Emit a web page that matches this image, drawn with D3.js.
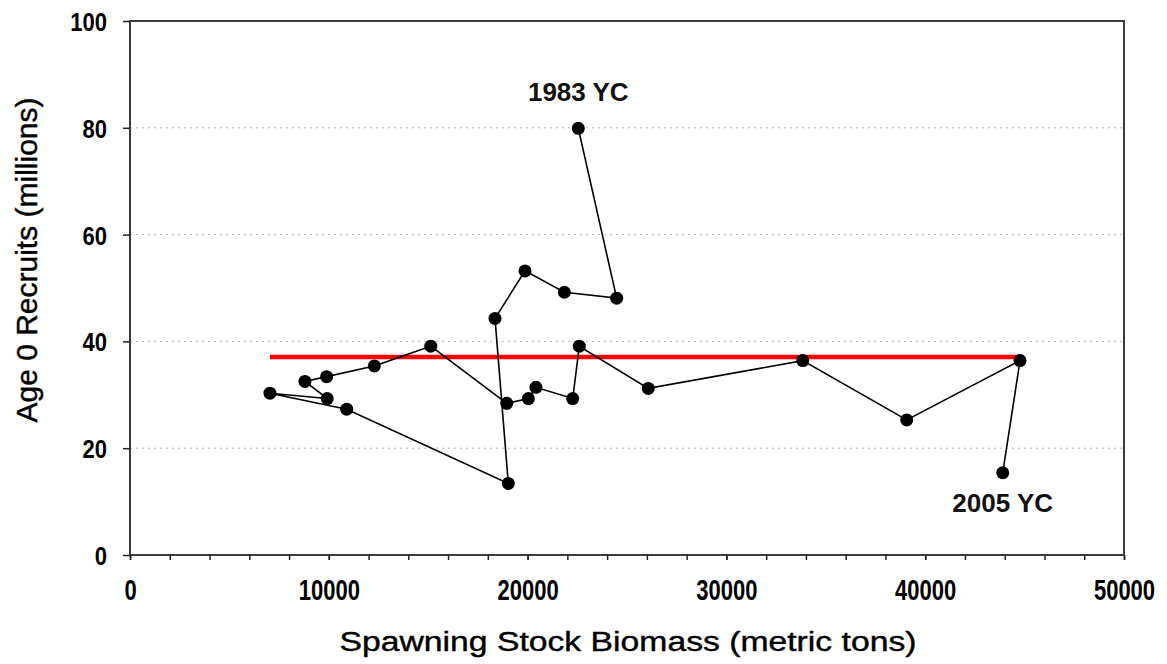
<!DOCTYPE html>
<html>
<head>
<meta charset="utf-8">
<script src="https://cdn.jsdelivr.net/npm/d3@7"></script>
<style>
  body { margin: 0; background: #fff; }
  text { font-family: "Liberation Sans", Arial, sans-serif; }
</style>
</head>
<body>
<div id="chart"></div>
<script>
// year classes, in plotting order (the line follows time)
const yearClass = [1983, 1984, 1985, 1986, 1987, 1988, 1989, 1990, 1991, 1992, 1993, 1994,
                   1995, 1996, 1997, 1998, 1999, 2000, 2001, 2002, 2003, 2004, 2005];
// spawning stock biomass (metric tons)
const ssb = [22550, 24480, 21850, 19870, 18360, 19030, 10900, 7040, 9920, 8800, 9890, 12290,
             15130, 18950, 20040, 20420, 22270, 22600, 26070, 33840, 39070, 44770, 43900];
// age 0 recruits (millions)
const recruits = [79.9, 48.1, 49.2, 53.2, 44.3, 13.4, 27.3, 30.3, 29.3, 32.5, 33.4, 35.4,
                  39.1, 28.4, 29.3, 31.4, 29.3, 39.1, 31.2, 36.4, 25.3, 36.4, 15.4];
const meanRecruits = 37.1;
const labelYears = [1983, 2005];

const xMajor = [0, 10000, 20000, 30000, 40000, 50000];
const xMinor = d3.range(0, 50001, 2000);
const yTicks = [0, 20, 40, 60, 80, 100];
const yGrid = [20, 40, 60, 80];

const W = 1167, H = 664;
const plot = {left: 130, right: 1124, top: 21, bottom: 555};

const data = yearClass.map((yc, i) => ({yc: yc, x: ssb[i], y: recruits[i]}));

const svg = d3.select("#chart")
  .append("svg")
  .attr("width", W)
  .attr("height", H)
  .style("display", "block");

const x = d3.scaleLinear().domain([0, 50000]).range([plot.left, plot.right]);
const y = d3.scaleLinear().domain([0, 100]).range([plot.bottom, plot.top]);

// dotted gridlines
svg.append("g")
  .selectAll("line")
  .data(yGrid)
  .join("line")
    .attr("x1", plot.left)
    .attr("x2", plot.right)
    .attr("y1", d => y(d))
    .attr("y2", d => y(d))
    .attr("stroke", "#b4b4b4")
    .attr("stroke-width", 1)
    .attr("stroke-dasharray", "2,4");

// plot frame
svg.append("rect")
  .attr("x", plot.left)
  .attr("y", plot.top)
  .attr("width", plot.right - plot.left)
  .attr("height", plot.bottom - plot.top)
  .attr("fill", "none")
  .attr("stroke", "#3c3c3c")
  .attr("stroke-width", 2);

// x axis: minor ticks then labelled major ticks
svg.append("g")
  .attr("transform", `translate(0,${plot.bottom})`)
  .call(d3.axisBottom(x).tickValues(xMinor).tickSize(5).tickSizeOuter(0).tickFormat(""))
  .call(g => g.select(".domain").remove())
  .call(g => g.selectAll("line").attr("stroke", "#222").attr("stroke-width", 1.5));

// labels are tall and narrow in the original, so stretch them vertically
svg.append("g")
  .attr("transform", `translate(0,${plot.bottom})`)
  .call(d3.axisBottom(x).tickValues(xMajor).tickSize(5).tickSizeOuter(0).tickFormat(d3.format("d")))
  .call(g => g.select(".domain").remove())
  .call(g => g.selectAll("line").attr("stroke", "#222").attr("stroke-width", 1.5))
  .call(g => g.selectAll("text")
    .attr("y", 0)
    .attr("dy", null)
    .attr("transform", "translate(0,45) scale(1,1.35)")
    .attr("fill", "#000")
    .attr("font-size", 22)
    .attr("font-weight", "bold")
    .attr("font-family", "Liberation Sans, Arial, sans-serif"));

// y axis
svg.append("g")
  .attr("transform", `translate(${plot.left},0)`)
  .call(d3.axisLeft(y).tickValues(yTicks).tickSize(7).tickSizeOuter(0))
  .call(g => g.select(".domain").remove())
  .call(g => g.selectAll("line").attr("stroke", "#222").attr("stroke-width", 1.5))
  .call(g => g.selectAll("text")
    .attr("x", -23)
    .attr("y", 9.5)
    .attr("dy", null)
    .attr("fill", "#000")
    .attr("font-size", 26)
    .attr("font-weight", "bold")
    .attr("font-family", "Liberation Sans, Arial, sans-serif")
    .attr("textLength", d => String(d).length * 12.25)
    .attr("lengthAdjust", "spacingAndGlyphs"));

// axis titles
svg.append("text")
  .attr("x", (plot.left + plot.right) / 2 + 1)
  .attr("y", 651)
  .attr("text-anchor", "middle")
  .attr("font-size", 27)
  .attr("stroke", "#000")
  .attr("stroke-width", 0.4)
  .attr("textLength", 577)
  .attr("lengthAdjust", "spacingAndGlyphs")
  .text("Spawning Stock Biomass (metric tons)");

svg.append("text")
  .attr("transform", "translate(37,260) rotate(-90)")
  .attr("text-anchor", "middle")
  .attr("font-size", 29)
  .attr("stroke", "#000")
  .attr("stroke-width", 0.4)
  .attr("textLength", 325)
  .attr("lengthAdjust", "spacingAndGlyphs")
  .text("Age 0 Recruits (millions)");

// mean recruitment line across the observed SSB range
const xExt = d3.extent(ssb);
svg.append("line")
  .attr("x1", x(xExt[0]))
  .attr("x2", x(xExt[1]))
  .attr("y1", y(meanRecruits))
  .attr("y2", y(meanRecruits))
  .attr("stroke", "#ff0000")
  .attr("stroke-width", 4.5);

// stock-recruit trajectory
svg.append("path")
  .datum(data)
  .attr("fill", "none")
  .attr("stroke", "#000")
  .attr("stroke-width", 1.6)
  .attr("d", d3.line().x(d => x(d.x)).y(d => y(d.y)));

svg.append("g")
  .selectAll("circle")
  .data(data)
  .join("circle")
    .attr("cx", d => x(d.x))
    .attr("cy", d => y(d.y))
    .attr("r", 6.5)
    .attr("fill", "#000");

// year-class labels
svg.append("g")
  .selectAll("text")
  .data(data.filter(d => labelYears.includes(d.yc)))
  .join("text")
    .attr("x", d => x(d.x))
    .attr("y", d => d.y > 50 ? y(d.y) - 27 : y(d.y) + 39)
    .attr("text-anchor", "middle")
    .attr("font-size", 26)
    .attr("font-weight", "bold")
    .attr("fill", "#111")
    .text(d => d.yc + " YC");
</script>
</body>
</html>
